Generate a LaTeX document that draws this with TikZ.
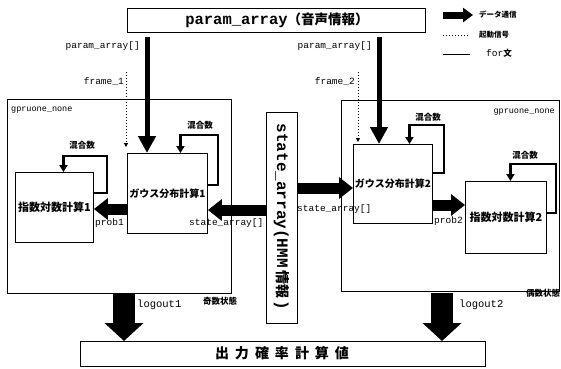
\documentclass[tikz,border=0pt]{standalone}
\usepackage{fontspec}
\setmonofont{Liberation Mono}
\newfontfamily\cjk{Noto Sans CJK JP}
\usetikzlibrary{arrows.meta}
\tikzset{
  box/.style={draw, line width=0.9pt, inner sep=0pt, font=\cjk\bfseries\fontsize{10}{12}\selectfont},
  outerbox/.style={draw, line width=0.7pt, inner sep=0pt},
  lbl/.style={font=\ttfamily\fontsize{9.5}{11}\selectfont, inner sep=0pt},
  jlbl/.style={font=\cjk\bfseries\fontsize{8.5}{10}\selectfont, inner sep=0pt},
  loopline/.style={line width=2.4pt, -{Triangle[width=8pt,length=7pt]}},
  data/.style={line width=11pt, -{Triangle[width=21pt,length=14pt]}},
  paramline/.style={line width=5pt, -{Triangle[width=17pt,length=17pt]}},
  trig/.style={dotted, line width=1pt, -{Triangle[width=4pt,length=4pt]}},
  bigarrow/.style={line width=22pt, -{Triangle[width=38pt,length=18pt]}},
}
\begin{document}
\begin{tikzpicture}[x=1pt,y=-1pt]
\useasboundingbox (0,0) rectangle (561,368);
% top box
\node[outerbox, line width=0.9pt, minimum width=298pt, minimum height=24pt, anchor=north west] (top) at (127,8) {};
\node[inner sep=0pt] (toptext) at (277,20) {\ttfamily\bfseries\fontsize{15.5}{16}\selectfont param\_array\cjk\bfseries\fontsize{13.5}{16}\selectfont （音声情報）};
% legend
\coordinate (lga) at (443,15); \coordinate (lgb) at (473,15);
\draw[line width=7pt, -{Triangle[width=14pt,length=10pt]}] (lga) -- (lgb);
\node[jlbl, font=\cjk\bfseries\fontsize{7.5}{9}\selectfont, anchor=west] (lgt1) at (479,15) {データ通信};
\coordinate (lgc) at (443,35); \coordinate (lgd) at (470,35);
\draw[dotted, line width=1pt] (lgc) -- (lgd);
\node[jlbl, font=\cjk\bfseries\fontsize{7.5}{9}\selectfont, anchor=west] (lgt2) at (479,35) {起動信号};
\coordinate (lge) at (443,54); \coordinate (lgf) at (470,54);
\draw[line width=0.8pt] (lge) -- (lgf);
\node[lbl, anchor=west] (lgt3) at (486,53) {for\cjk\bfseries\fontsize{8.5}{10}\selectfont 文};
% outer boxes
\node[outerbox, minimum width=224pt, minimum height=194pt, anchor=north west] (L) at (7,99) {};
\node[outerbox, minimum width=218pt, minimum height=191pt, anchor=north west] (R) at (341,100) {};
\node[lbl, font=\ttfamily\fontsize{8.5}{10}\selectfont, anchor=west] (gl) at (11,110) {gpruone\_none};
\node[lbl, font=\ttfamily\fontsize{8.5}{10}\selectfont, anchor=east] (gr) at (555,112) {gpruone\_none};
% inner boxes
\node[box, minimum width=80pt, minimum height=80pt, anchor=north west] (g1) at (127,153) {ガウス分布計算1};
\node[box, font=\cjk\bfseries\fontsize{11}{12}\selectfont, minimum width=78pt, minimum height=70pt, anchor=north west] (e1) at (15,172) {指数対数計算1};
\node[box, minimum width=79pt, minimum height=79pt, anchor=north west] (g2) at (353,144) {ガウス分布計算2};
\node[box, font=\cjk\bfseries\fontsize{11}{12}\selectfont, minimum width=81pt, minimum height=72pt, anchor=north west] (e2) at (465,181) {指数対数計算2};
% middle box
\node[outerbox, line width=0.9pt, minimum width=31pt, minimum height=211pt, anchor=north west] (mid) at (266,112) {};
\node[rotate=-90, inner sep=0pt] (midtext) at (281.5,217) {\ttfamily\bfseries\fontsize{16}{16}\selectfont state\_array(HMM\,\cjk\bfseries\fontsize{14}{16}\selectfont 情報\,\ttfamily\bfseries\fontsize{16}{16}\selectfont )};
% bottom box
\node[outerbox, line width=0.9pt, minimum width=405pt, minimum height=25pt, anchor=north west] (bot) at (80,341) {};
\node[inner sep=0pt] (bottext) at (282,353.5) {\cjk\bfseries\fontsize{14}{16}\selectfont 出\hspace{6pt}力\hspace{6pt}確\hspace{6pt}率\hspace{6pt}計\hspace{6pt}算\hspace{6pt}値};
% param arrows
\node[lbl, anchor=east] (pl1) at (140,46) {param\_array[]};
\node[lbl, anchor=east] (pl2) at (372,46) {param\_array[]};
\coordinate (pa1) at (147,37); \coordinate (pa2) at (379,37);
\draw[paramline] (pa1) -- (pa1 |- g1.north);
\draw[paramline] (pa2) -- (pa2 |- g2.north);
% frame triggers
\node[lbl, anchor=east] (fl1) at (124,82) {frame\_1};
\node[lbl, anchor=east] (fl2) at (355,82) {frame\_2};
\coordinate (fa1) at (126,72); \coordinate (fb1) at (126,147);
\coordinate (fa2) at (358,72); \coordinate (fb2) at (358,142);
\draw[trig] (fa1) -- (fb1);
\draw[trig] (fa2) -- (fb2);
% loops
\draw[loopline] ([yshift=-32pt]g1.north east) -- ++(10,0) |- ([xshift=13pt,yshift=18pt]g1.north) -- ([xshift=13pt]g1.north);
\node[jlbl] (k1) at (200,125) {混合数};
\draw[loopline] ([yshift=-21pt]e1.north east) -- ++(13,0) |- ([xshift=9pt,yshift=16pt]e1.north) -- ([xshift=9pt]e1.north);
\node[jlbl] (k2) at (82,145) {混合数};
\draw[loopline] ([yshift=-29pt]g2.north east) -- ++(11,0) |- ([xshift=16.5pt,yshift=19pt]g2.north) -- ([xshift=16.5pt]g2.north);
\node[jlbl] (k3) at (428,117) {混合数};
\draw[loopline] ([yshift=-32pt]e2.north east) -- ++(9,0) |- ([xshift=4.5pt,yshift=17pt]e2.north) -- ([xshift=4.5pt]e2.north);
\node[jlbl] (k4) at (525,155) {混合数};
% data arrows
\coordinate (p1s) at ([yshift=-56pt]g1.north west);
\draw[data] (p1s) -- (p1s -| e1.east);
\node[lbl, anchor=west] (pr1) at (95,223) {prob1};
\coordinate (s1s) at ([yshift=-98pt]mid.north west);
\draw[data] (s1s) -- (s1s -| g1.east);
\node[lbl, anchor=west] (st1) at (189,223) {state\_array[]};
\coordinate (s2s) at ([yshift=-76pt]mid.north east);
\draw[data] (s2s) -- (s2s -| g2.west);
\node[lbl, anchor=west] (st2) at (297,209) {state\_array[]};
\coordinate (p2s) at ([yshift=-61pt]g2.north east);
\draw[data] (p2s) -- (p2s -| e2.west);
\node[lbl, anchor=west] (pr2) at (434,221) {prob2};
% output arrows
\coordinate (o1) at (124,294); \coordinate (o2) at (442,293);
\draw[bigarrow] (o1) -- (o1 |- bot.north);
\draw[bigarrow] (o2) -- (o2 |- bot.north);
\node[lbl, font=\ttfamily\fontsize{10.5}{12}\selectfont, anchor=west] (lo1) at (137,305) {logout1};
\node[lbl, font=\ttfamily\fontsize{10.5}{12}\selectfont, anchor=west] (lo2) at (459,305) {logout2};
\node[jlbl] (odd) at (220,301) {奇数状態};
\node[jlbl] (even) at (543,293) {偶数状態};
\end{tikzpicture}
\end{document}
